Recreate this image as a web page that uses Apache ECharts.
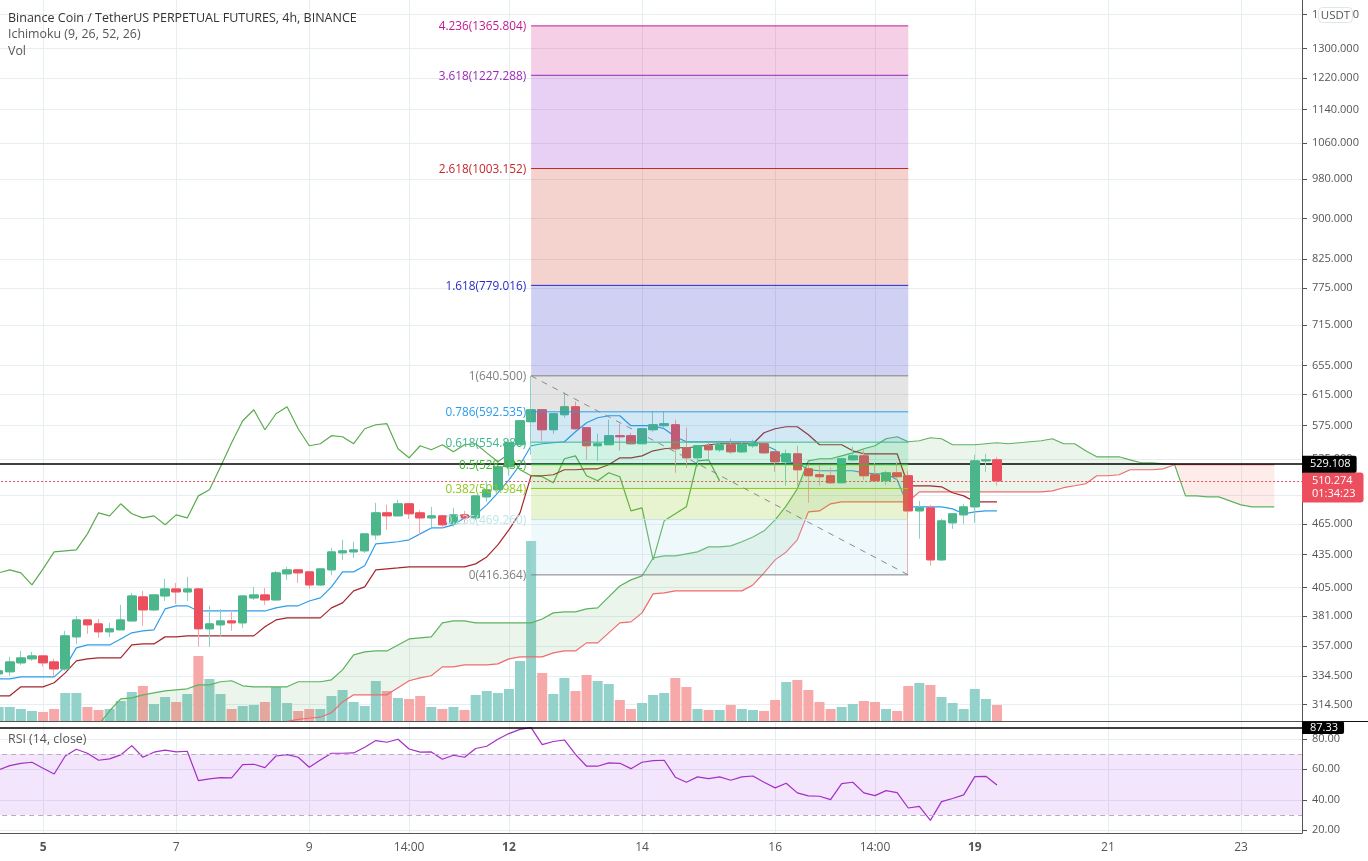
<!DOCTYPE html>
<html>
<head>
<meta charset="utf-8">
<title>BNB 4h</title>
<style>
html, body { margin: 0; padding: 0; background: #fff; }
#chart { width: 1368px; height: 861px; }
</style>
<script src="https://cdn.jsdelivr.net/npm/echarts@6/dist/echarts.min.js"></script>
</head>
<body>
<div id="chart"></div>
<script>
// [open, close, low, high] per 4h bar
var candles = [
[336.1,338.3,334.7,339.8],[337.6,344.9,334.7,348.7],[344.2,347.9,342.7,353.2],[347.2,349.4,345.7,352.5],[349.4,344.2,341.2,349.4],
[344.9,339.7,334.7,347.2],[339.7,364.9,338.3,368.9],[364.1,377.7,358.6,381.0],[377.7,373.7,366.5,377.7],[374.5,368.1,363.3,378.5],
[368.1,370.5,364.1,375.3],[369.7,377.7,369.7,390.2],[376.9,397.8,376.9,400.4],[397.0,386.0,372.9,402.2],[386.0,398.7,385.1,398.7],
[397.8,403.9,393.5,412.8],[403.9,401.3,391.0,409.2],[401.3,403.9,393.5,414.6],[403.9,370.5,356.3,404.8],[370.5,374.5,356.3,389.4],
[373.7,376.9,364.1,386.8],[376.9,375.3,368.9,386.0],[375.3,397.8,371.3,397.8],[396.1,398.7,394.4,405.7],[398.7,394.4,390.2,404.8],
[394.4,418.2,394.4,420.0],[417.3,420.9,411.9,423.7],[420.9,418.2,409.2,421.8],[419.1,407.4,403.9,419.1],[407.4,421.8,406.5,421.8],
[420.9,437.6,416.4,441.4],[436.7,438.6,430.1,449.2],[437.6,439.5,431.9,447.3],[438.6,455.0,436.7,455.0],[454.0,476.2,449.2,486.6],
[476.2,473.1,459.0,484.5],[473.1,485.6,473.1,489.8],[485.6,475.2,470.0,486.6],[476.2,471.0,454.0,479.3],[471.0,473.1,462.0,482.4],
[473.1,464.0,461.0,473.1],[465.0,474.1,462.0,481.4],[474.1,471.0,466.0,478.2],[471.0,494.0,469.0,494.0],[492.9,500.5,487.7,510.4],
[500.5,526.1,500.5,526.1],[526.1,554.2,516.0,557.8],[551.8,581.2,551.8,581.2],[580.0,595.2,539.9,640.5],[595.2,570.0,556.6,595.2],
[570.0,590.1,565.1,590.1],[588.8,599.1,585.0,617.6],[599.1,571.2,570.0,605.7],[572.5,550.6,534.1,572.5],[550.6,553.0,533.0,565.1],
[551.8,562.7,551.8,582.5],[562.7,561.4,544.6,577.5],[562.7,553.0,551.8,566.3],[553.0,571.2,553.0,571.2],[570.0,576.2,567.6,592.6],
[575.0,577.5,572.5,592.6],[576.2,547.0,519.3,582.5],[548.2,536.4,524.9,572.5],[536.4,550.6,526.1,550.6],[550.6,545.8,534.1,555.4],
[545.8,551.8,543.4,556.6],[551.8,543.4,541.1,559.0],[543.4,551.8,542.2,554.2],[550.6,553.0,548.2,557.8],[553.0,542.2,541.0,553.0],
[543.4,531.8,520.4,543.4],[531.8,541.1,504.9,545.8],[541.1,522.7,504.9,550.6],[523.8,516.0,486.6,529.5],[517.1,514.9,504.9,528.4],
[516.0,508.2,507.1,525.0],[508.2,535.3,508.2,535.3],[534.1,538.7,533.0,549.4],[538.7,516.0,511.5,547.0],[517.1,510.4,510.4,530.7],
[510.4,519.3,506.0,521.6],[519.3,514.9,511.5,531.8],[516.0,478.2,416.364,521.6],[478.2,481.4,450.2,488.7],[481.4,430.1,424.6,484.5],
[430.1,468.0,429.2,470.0],[466.0,475.2,460.0,475.2],[474.1,482.4,465.0,485.6],[482.4,532.9,466.0,539.9],[532.9,534.1,520.4,541.1],
[534.1,510.27,504.9,537.6]
];
var volumes = [14,14,12,10,9,12,28,28,14,11,12,20,29,35,17,24,19,27,65,42,27,12,15,16,19,34,18,10,12,12,25,31,
19,15,40,30,23,22,25,14,12,14,11,26,30,28,32,60,180,48,27,43,30,46,40,37,21,12,18,26,28,43,
34,12,11,11,16,12,11,10,21,39,41,31,19,12,14,17,20,19,12,10,35,38,36,24,18,12,32,22,16];
var tenkan = [332.5,332.5,333.9,333.9,333.9,333.9,341.2,355.5,357.8,357.8,357.8,362.5,367.3,368.9,369.7,386.8,389.4,389.4,
385.1,385.1,385.1,385.1,385.1,385.1,385.1,387.7,389.4,389.4,393.5,396.1,405.7,419.1,419.1,424.6,445.3,446.3,447.3,449.2,455.0,460.9,460.9,464.0,
471.0,474.1,484.5,497.3,511.5,528.4,550.6,553.0,554.2,555.4,567.6,578.7,585.0,587.5,587.5,575.0,575.0,575.0,571.2,561.4,555.4,
555.4,555.4,555.4,555.4,555.4,555.4,551.8,545.8,531.8,530.7,522.7,521.6,521.6,521.6,521.6,519.3,518.2,518.2,511.5,482.4,482.4,482.4,482.4,480.3,475.2,477.2,478.2,478.2];
var kijun = [320.5,320.5,326.8,326.8,326.8,329.7,336.8,345.7,347.2,347.9,347.9,347.9,357.8,358.6,358.6,364.1,364.1,
364.9,364.9,364.9,364.9,364.9,364.9,364.9,372.1,377.7,379.4,379.4,379.4,379.4,387.7,391.9,402.2,405.7,420.9,421.8,422.7,
423.7,423.7,423.7,423.7,423.7,423.7,426.4,432.9,444.3,459.0,476.2,516.0,516.0,517.1,522.7,522.7,523.8,523.8,528.4,536.4,536.4,538.7,544.6,547.0,548.2,548.2,549.4,551.8,
553.0,553.0,553.0,553.0,566.3,571.2,573.7,573.7,563.9,551.8,551.8,551.8,544.6,541.1,541.1,541.1,541.1,504.9,504.9,504.9,503.8,497.3,494.0,487.7,487.7,487.7];
var chikou = [418.2,420.9,418.2,407.4,421.8,437.6,438.6,439.5,455.0,476.2,473.1,485.6,475.2,471.0,473.1,464.0,474.1,471.0,494.0,500.5,
526.1,554.2,581.2,595.2,570.0,590.1,599.1,571.2,550.6,553.0,562.7,561.4,553.0,571.2,576.2,577.5,547.0,536.4,550.6,545.8,551.8,543.4,551.8,553.0,542.2,
531.8,541.1,522.7,516.0,514.9,508.2,535.3,538.7,516.0,510.4,519.3,514.9,478.2,481.4,430.1,468.0,475.2,482.4,532.9,534.1,510.27];
var spanAStart = 9;
var spanA = [301.0,310.3,318.4,319.1,321.2,322.6,324.0,324.7,325.4,328.2,328.2,330.4,331.1,327.5,326.8,326.8,326.8,326.8,330.4,330.4,330.4,331.8,339.0,
350.2,352.5,353.2,353.2,357.8,362.5,363.3,364.1,375.3,376.9,376.9,375.3,375.3,375.3,375.3,375.3,375.3,378.5,383.5,384.3,384.3,386.8,387.7,397.0,406.5,411.9,415.5,
431.9,433.9,433.9,435.7,437.6,442.4,442.4,443.3,447.3,452.0,458.0,469.0,483.4,501.6,532.9,535.3,535.3,538.7,542.2,547.0,550.6,559.0,561.4,555.4,556.6,560.2,559.0,
551.8,551.8,551.8,553.0,554.2,553.0,554.2,555.4,556.6,559.0,553.0,553.0,544.6,537.6,537.6,537.6,534.1,530.7,530.7,529.5,529.0,494.0,494.0,492.9,492.9,488.7,484.5,482.4,482.4,482.4];
var spanBStart = 26;
var spanB = [303.3,304.6,305.3,306.0,309.0,316.3,321.2,321.2,321.2,321.2,326.1,331.1,333.2,334.7,341.2,341.2,342.7,342.7,342.7,343.4,347.2,348.7,348.7,348.7,
351.7,353.2,353.2,359.4,359.4,367.3,375.3,376.1,383.5,399.6,400.4,402.2,402.2,402.2,402.2,402.2,402.2,402.2,407.4,418.2,430.1,437.6,449.2,477.2,478.2,485.6,
487.7,487.7,487.7,487.7,487.7,487.7,487.7,498.3,498.3,498.3,498.3,498.3,498.3,498.3,498.3,498.3,498.3,498.3,498.3,499.4,502.8,504.9,507.1,516.0,516.0,517.1,
522.7,522.7,522.7,523.8,528.4,528.4,528.4,528.4,528.4,528.4,528.4,528.4,528.4,528.4];
var rsi = [59.6,62.4,63.9,64.6,60.7,56.9,68.7,73.1,70.5,65.9,66.8,69.4,75.5,67.9,71.2,72.5,71.4,71.8,52.6,53.7,54.5,54.3,63.1,63.3,61.1,68.7,69.6,67.9,61.3,66.1,70.5,70.5,70.7,
74.4,78.8,77.7,79.7,73.3,71.2,71.4,66.6,69.2,67.9,73.6,75.1,79.7,83.4,86.2,87.33,76.2,78.2,79.2,69.8,62.0,62.0,64.2,63.9,60.4,64.6,65.7,65.9,54.8,51.5,55.0,53.9,55.0,52.8,55.0,
55.6,51.5,47.8,50.8,44.5,42.5,42.3,40.1,50.6,51.5,44.5,42.7,46.0,44.7,34.6,35.7,26.5,38.8,40.8,43.2,55.2,55.4,49.7];

var fibRatios = ["0","0.236","0.382","0.5","0.618","0.786","1","1.618","2.618","3.618","4.236"];
var fibPrices = [416.364,469.26,501.984,528.432,554.88,592.535,640.5,779.016,1003.152,1227.288,1365.804];
var fibColors = ["#7f7f7f","#bfe4ea","#8fc91e","#3dbb2f","#3fb68b","#2b9cea","#7f7f7f","#2a2acb","#c62828","#9c2ab8","#c2188f"];
var fibFills = ["#aee1f0","#8cc314","#50be23","#19c37d","#238ccd","#787878","#1414c3","#c82310","#8c14c8","#c80f82"];
var fibFromBar = 48, fibToBar = 82;
var hLinePrice = 529.108, lastPrice = 510.274, countdown = "01:34:23", rsiLine = 87.33;

var priceTicks = [1400,1300,1220,1140,1060,980,900,825,775,715,655,615,575,535,495,465,435,405,381,357,334.5,314.5];
var rsiTicks = [20,40,60,80];
var xTickBars = [4,16,28,37,46,58,70,79,88,100,112];
var xTickLabels = ["5","7","9","14:00","12","14","16","14:00","19","21","23"];
var boldTicks = ["5","12","19"];
var barCount = 118;

var UP = "#4bb68a", DOWN = "#ec4e5e", UP_WICK = "#8ccfc5", DOWN_WICK = "#f7a5a8";
var UP_VOL = "#93d2cb", DOWN_VOL = "#f7a9a9";
var GRID = "#e6eef2", AXIS = "#555", FONT = "'Open Sans', sans-serif";

var categories = [];
for (var i = 0; i < barCount; i++) categories.push("");
xTickBars.forEach(function (b, k) { categories[b] = xTickLabels[k]; });
var isTick = function (index) { return xTickBars.indexOf(index) >= 0; };

function pad(start, arr) {
    return new Array(start).fill(null).concat(arr);
}
var fullA = pad(spanAStart, spanA), fullB = pad(spanBStart, spanB);

// cloud polygon between both spans for a range of bars
function cloudRenderer(params, api) {
    var from = params.dataIndex === 0 ? spanAStart : 106;
    var to = params.dataIndex === 0 ? 106 : 115;
    var upper = [], lower = [];
    for (var b = from; b <= to; b++) {
        var lo = fullB[b] == null ? 303 : fullB[b];
        upper.push(api.coord([b, fullA[b]]));
        lower.unshift(api.coord([b, lo]));
    }
    return {
        type: "polygon",
        shape: { points: upper.concat(lower) },
        style: { fill: params.dataIndex === 0 ? "rgba(67,160,71,0.1)" : "rgba(244,67,54,0.1)" }
    };
}

function fibRenderer(params, api) {
    var k = params.dataIndex;
    var left = api.coord([fibFromBar, fibPrices[k]]);
    var right = api.coord([fibToBar, fibPrices[k]]);
    var children = [];
    if (k < fibPrices.length - 1) {
        var top = api.coord([fibFromBar, fibPrices[k + 1]]);
        children.push({
            type: "rect",
            shape: { x: left[0], y: top[1], width: right[0] - left[0], height: left[1] - top[1] },
            style: { fill: fibFills[k], opacity: 0.2 }
        });
    }
    children.push({
        type: "line",
        shape: { x1: left[0], y1: left[1], x2: right[0], y2: right[1] },
        style: { stroke: fibColors[k], lineWidth: 1 }
    });
    children.push({
        type: "text",
        style: {
            x: left[0] - 5, y: left[1] + 1, text: fibRatios[k] + "(" + fibPrices[k].toFixed(3) + ")",
            fill: fibColors[k], font: "11.8px " + FONT, textAlign: "right", textVerticalAlign: "middle"
        }
    });
    return { type: "group", children: children };
}

function lineSeries(name, values, color, z) {
    return {
        name: name, type: "line", xAxisIndex: 0, yAxisIndex: 0, data: values, z: z,
        symbol: "none", connectNulls: false, animation: false,
        lineStyle: { color: color, width: 1.2 }
    };
}

var chart = echarts.init(document.getElementById("chart"), null, { renderer: "canvas" });
chart.setOption({
    animation: false,
    backgroundColor: "#fff",
    grid: [
        { left: -6.85, right: 66, top: 0, height: 721, outerBoundsMode: "none" },
        { left: -6.85, right: 66, top: 722, height: 111, outerBoundsMode: "none" }
    ],
    xAxis: [
        {
            type: "category", gridIndex: 0, data: categories,
            axisLine: { lineStyle: { color: AXIS } },
            axisTick: { show: false },
            axisLabel: { show: false },
            splitLine: { show: true, alignWithLabel: true, interval: isTick, lineStyle: { color: GRID } }
        },
        {
            type: "category", gridIndex: 1, data: categories,
            axisLine: { lineStyle: { color: AXIS } },
            axisTick: { alignWithLabel: true, interval: isTick, length: 4, lineStyle: { color: AXIS } },
            axisLabel: {
                interval: isTick, margin: 9, fontSize: 12, fontFamily: FONT, color: "#555",
                formatter: function (v) {
                    return boldTicks.indexOf(v) >= 0 ? "{b|" + v + "}" : v;
                },
                rich: { b: { fontWeight: "bold", fontSize: 12, fontFamily: FONT, color: "#555" } }
            },
            splitLine: { show: true, alignWithLabel: true, interval: isTick, lineStyle: { color: GRID } }
        }
    ],
    yAxis: [
        {
            type: "log", logBase: Math.E, gridIndex: 0, position: "right", min: 303.5, max: 1444.5,
            axisLine: { show: true, lineStyle: { color: AXIS } },
            axisTick: { show: true, length: 5, customValues: priceTicks, lineStyle: { color: AXIS } },
            axisLabel: {
                customValues: priceTicks, margin: 10, fontSize: 11, fontFamily: FONT, color: "#555",
                padding: [2, 0, 0, 0],
                formatter: function (v) { return Number(v).toFixed(3); }
            },
            splitLine: { show: true, lineStyle: { color: GRID } }
        },
        {
            type: "value", gridIndex: 1, position: "right", min: 18.2, max: 91,
            axisLine: { show: true, lineStyle: { color: AXIS } },
            axisTick: { show: true, length: 5, customValues: rsiTicks, lineStyle: { color: AXIS } },
            axisLabel: {
                customValues: rsiTicks, margin: 10, fontSize: 11, fontFamily: FONT, color: "#555",
                padding: [2, 0, 0, 0],
                formatter: function (v) { return Number(v).toFixed(2); }
            },
            splitLine: { show: true, lineStyle: { color: GRID } }
        },
        { type: "value", gridIndex: 0, min: 0, max: 721, show: false }
    ],
    series: [
        {
            name: "Vol", type: "bar", xAxisIndex: 0, yAxisIndex: 2, barWidth: 10, z: 2,
            data: volumes.map(function (v, k) {
                return { value: v, itemStyle: { color: candles[k][1] >= candles[k][0] ? UP_VOL : DOWN_VOL } };
            })
        },
        {
            name: "Cloud", type: "custom", xAxisIndex: 0, yAxisIndex: 0, z: 3,
            renderItem: cloudRenderer, data: [[50, 500], [110, 500]], clip: true, silent: true
        },
        lineSeries("Lead 1", fullA, "#5cb35e", 4),
        lineSeries("Lead 2", fullB, "#f06a6e", 4),
        lineSeries("Lagging", chikou, "#5cab4f", 4),
        lineSeries("Base", kijun, "#a5272c", 4),
        lineSeries("Conversion", tenkan, "#2f9dec", 4),
        {
            name: "Wicks", type: "candlestick", xAxisIndex: 0, yAxisIndex: 0, barWidth: 7, z: 5,
            data: candles,
            itemStyle: { color: UP_WICK, color0: DOWN_WICK, borderColor: UP_WICK, borderColor0: DOWN_WICK, borderWidth: 1 }
        },
        {
            name: "Bodies", type: "candlestick", xAxisIndex: 0, yAxisIndex: 0, barWidth: 9, z: 5,
            data: candles.map(function (c) {
                return [c[0], c[1], Math.min(c[0], c[1]), Math.max(c[0], c[1])];
            }),
            itemStyle: { color: UP, color0: DOWN, borderColor: UP, borderColor0: DOWN, borderWidth: 1 }
        },
        {
            name: "Fib", type: "custom", xAxisIndex: 0, yAxisIndex: 0, z: 6, clip: false, silent: true,
            renderItem: fibRenderer,
            data: fibPrices.map(function (p) { return [fibFromBar, p]; })
        },
        {
            name: "Fib trend", type: "line", xAxisIndex: 0, yAxisIndex: 0, z: 7, symbol: "none",
            data: [[fibFromBar, fibPrices[6]], [fibToBar, fibPrices[0]]],
            lineStyle: { color: "#8a8a8a", width: 1, type: [6, 6] }
        },
        {
            name: "Levels", type: "line", xAxisIndex: 0, yAxisIndex: 0, z: 8, data: [],
            markLine: {
                silent: true, symbol: "none", animation: false,
                data: [
                    {
                        yAxis: lastPrice,
                        lineStyle: { color: DOWN, type: [2, 2], width: 1 },
                        label: {
                            position: "end", distance: 0, offset: [0, 6.5],
                            formatter: lastPrice.toFixed(3) + "\n" + countdown,
                            backgroundColor: DOWN, color: "#fff", fontFamily: FONT, fontSize: 11, lineHeight: 13,
                            padding: [2, 8, 2, 10], borderRadius: [0, 3, 3, 0]
                        }
                    },
                    {
                        yAxis: hLinePrice,
                        lineStyle: { color: "#000", type: "solid", width: 1.5 },
                        label: {
                            position: "end", distance: 0, formatter: hLinePrice.toFixed(3),
                            backgroundColor: "#000", color: "#fff", fontFamily: FONT, fontSize: 11,
                            padding: [3, 6, 3, 8], borderRadius: [0, 2, 2, 0]
                        }
                    }
                ]
            }
        },
        {
            name: "RSI", type: "line", xAxisIndex: 1, yAxisIndex: 1, data: rsi, symbol: "none", z: 4,
            lineStyle: { color: "#a52fc6", width: 1.2 },
            markArea: {
                silent: true,
                itemStyle: { color: "rgba(135,0,225,0.1)" },
                data: [[{ yAxis: 70 }, { yAxis: 30 }]]
            },
            markLine: {
                silent: true, symbol: "none", animation: false,
                data: [
                    { yAxis: 70, lineStyle: { color: "#bcaac4", type: [5, 4], width: 1 }, label: { show: false } },
                    { yAxis: 30, lineStyle: { color: "#bcaac4", type: [5, 4], width: 1 }, label: { show: false } },
                    {
                        yAxis: rsiLine, lineStyle: { color: "#000", type: "solid", width: 1.5 },
                        label: {
                            position: "end", distance: 0, formatter: rsiLine.toFixed(2),
                            backgroundColor: "#000", color: "#fff", fontFamily: FONT, fontSize: 11,
                            padding: [1, 6, 1, 8], borderRadius: [0, 2, 2, 0]
                        }
                    }
                ]
            }
        }
    ],
    graphic: [
        { type: "line", z: 20, shape: { x1: 1302, y1: 721.5, x2: 1368, y2: 721.5 }, style: { stroke: "#111", lineWidth: 1 } },
        { type: "rect", z: 20, shape: { x: 1318.5, y: 7.5, width: 34, height: 15, r: 4 }, style: { fill: "#fff", stroke: "#dbe7ee" } },
        { type: "text", z: 21, x: 1335.5, y: 16, style: { text: "USDT", fill: "#555", font: "11.5px " + FONT, textAlign: "center", textVerticalAlign: "middle" } },
        { type: "text", z: 21, x: 8, y: 18, style: { text: "Binance Coin / TetherUS PERPETUAL FUTURES, 4h, BINANCE", fill: "#333", font: "12.5px " + FONT, textVerticalAlign: "middle" } },
        { type: "text", z: 21, x: 8, y: 34, style: { text: "Ichimoku (9, 26, 52, 26)", fill: "#555", font: "12.4px " + FONT, textVerticalAlign: "middle" } },
        { type: "text", z: 21, x: 8, y: 51, style: { text: "Vol", fill: "#555", font: "12.4px " + FONT, textVerticalAlign: "middle" } },
        { type: "text", z: 21, x: 8, y: 739, style: { text: "RSI (14, close)", fill: "#555", font: "12.4px " + FONT, textVerticalAlign: "middle" } }
    ]
});
</script>
</body>
</html>
